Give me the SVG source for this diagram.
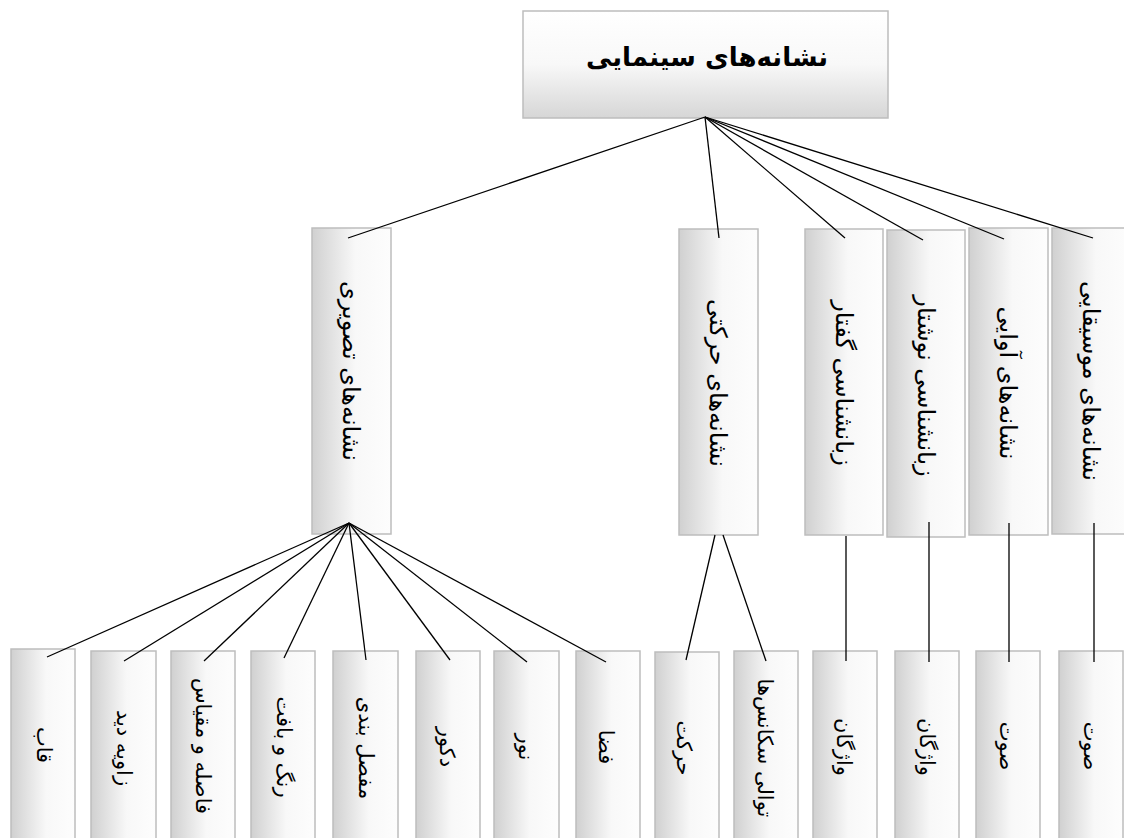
<svg xmlns="http://www.w3.org/2000/svg" width="1124" height="838" viewBox="0 0 1124 838">
  <defs>
    <linearGradient id="gradTop" x1="0" y1="0" x2="0" y2="1">
      <stop offset="0" stop-color="#ffffff"/>
      <stop offset="0.5" stop-color="#f8f8f8"/>
      <stop offset="1" stop-color="#d6d6d6"/>
    </linearGradient>
    <linearGradient id="gradSide" x1="0" y1="0" x2="1" y2="0">
      <stop offset="0" stop-color="#d0d0d0"/>
      <stop offset="0.55" stop-color="#f8f8f8"/>
      <stop offset="1" stop-color="#fdfdfd"/>
    </linearGradient>
    <style>
      .box { fill: url(#gradSide); stroke: #bdbdbd; stroke-width: 1.5; }
      .root { fill: url(#gradTop); stroke: #bdbdbd; stroke-width: 1.5; }
      .lbl { font-family: "DejaVu Sans", "Noto Sans", sans-serif; font-size: 21px; fill: #000; text-anchor: middle; dominant-baseline: central; }
      .mid { font-size: 24px; }
      .title { font-family: "DejaVu Sans", "Noto Sans", sans-serif; font-size: 26px; font-weight: bold; fill: #000; text-anchor: middle; dominant-baseline: central; }
      .wire { stroke: #000; stroke-width: 1.3; fill: none; }
    </style>
  </defs>

  <rect width="1124" height="838" fill="#ffffff"/>

  <!-- root -->
  <g id="root">
    <rect class="root" x="523" y="11" width="365" height="107"/>
    <text class="title" x="707" y="57">نشانه‌های سینمایی</text>
  </g>

  <!-- second level -->
  <g id="n-tasviri">
    <rect class="box" x="312" y="228" width="79" height="306"/>
    <text class="lbl mid" transform="translate(351,371) rotate(90)">نشانه‌های تصویری</text>
  </g>
  <g id="n-harekati">
    <rect class="box" x="679" y="229" width="79" height="306"/>
    <text class="lbl mid" transform="translate(718,383) rotate(90)">نشانه‌های حرکتی</text>
  </g>
  <g id="n-goftar">
    <rect class="box" x="805" y="229" width="78" height="306"/>
    <text class="lbl mid" transform="translate(844,383) rotate(90)">زبانشناسی گفتار</text>
  </g>
  <g id="n-neveshtar">
    <rect class="box" x="887" y="230" width="78" height="307"/>
    <text class="lbl mid" transform="translate(926,386) rotate(90)">زبانشناسی نوشتار</text>
  </g>
  <g id="n-avayi">
    <rect class="box" x="969" y="228" width="79" height="307"/>
    <text class="lbl mid" transform="translate(1008,383) rotate(90)">نشانه‌های آوایی</text>
  </g>
  <g id="n-mousighayi">
    <rect class="box" x="1052" y="228" width="80" height="306"/>
    <text class="lbl mid" transform="translate(1091,381) rotate(90)">نشانه‌های موسیقایی</text>
  </g>

  <!-- leaves -->
  <g id="l-ghab">
    <rect class="box" x="11" y="649" width="64" height="194"/>
    <text class="lbl" transform="translate(44,745) rotate(90)">قاب</text>
  </g>
  <g id="l-zavie">
    <rect class="box" x="91" y="651" width="65" height="192"/>
    <text class="lbl" transform="translate(124,748) rotate(90)">زاویه دید</text>
  </g>
  <g id="l-fasele">
    <rect class="box" x="171" y="651" width="64" height="192"/>
    <text class="lbl" transform="translate(203,746) rotate(90)">فاصله و مقیاس</text>
  </g>
  <g id="l-rang">
    <rect class="box" x="251" y="651" width="64" height="192"/>
    <text class="lbl" transform="translate(284,747) rotate(90)">رنگ و بافت</text>
  </g>
  <g id="l-mafsal">
    <rect class="box" x="333" y="651" width="65" height="192"/>
    <text class="lbl" transform="translate(366,748) rotate(90)">مفصل بندی</text>
  </g>
  <g id="l-dekor">
    <rect class="box" x="416" y="651" width="64" height="192"/>
    <text class="lbl" transform="translate(447,747) rotate(90)">دکور</text>
  </g>
  <g id="l-noor">
    <rect class="box" x="494" y="651" width="65" height="192"/>
    <text class="lbl" transform="translate(526,747) rotate(90)">نور</text>
  </g>
  <g id="l-faza">
    <rect class="box" x="576" y="651" width="64" height="192"/>
    <text class="lbl" transform="translate(606,747) rotate(90)">فضا</text>
  </g>
  <g id="l-harekat">
    <rect class="box" x="655" y="652" width="64" height="191"/>
    <text class="lbl" transform="translate(684,748) rotate(90)">حرکت</text>
  </g>
  <g id="l-tavali">
    <rect class="box" x="734" y="651" width="64" height="192"/>
    <text class="lbl" transform="translate(765,748) rotate(90)">توالی سکانس‌ها</text>
  </g>
  <g id="l-vajegan1">
    <rect class="box" x="813" y="651" width="64" height="192"/>
    <text class="lbl" transform="translate(844,747) rotate(90)">واژگان</text>
  </g>
  <g id="l-vajegan2">
    <rect class="box" x="895" y="651" width="64" height="192"/>
    <text class="lbl" transform="translate(927,747) rotate(90)">واژگان</text>
  </g>
  <g id="l-sowt1">
    <rect class="box" x="976" y="651" width="64" height="192"/>
    <text class="lbl" transform="translate(1007,746) rotate(90)">صوت</text>
  </g>
  <g id="l-sowt2">
    <rect class="box" x="1059" y="651" width="64" height="192"/>
    <text class="lbl" transform="translate(1091,746) rotate(90)">صوت</text>
  </g>

  <!-- connectors -->
  <g id="connectors" class="wire">
    <line x1="705" y1="117" x2="348" y2="238"/>
    <line x1="705" y1="117" x2="719" y2="238"/>
    <line x1="705" y1="117" x2="845" y2="238"/>
    <line x1="705" y1="117" x2="923" y2="240"/>
    <line x1="705" y1="117" x2="1004" y2="239"/>
    <line x1="705" y1="117" x2="1093" y2="238"/>

    <line x1="349" y1="523" x2="47" y2="657"/>
    <line x1="349" y1="523" x2="124" y2="661"/>
    <line x1="349" y1="523" x2="204" y2="661"/>
    <line x1="349" y1="523" x2="284" y2="658"/>
    <line x1="349" y1="523" x2="366" y2="660"/>
    <line x1="349" y1="523" x2="450" y2="660"/>
    <line x1="349" y1="523" x2="527" y2="662"/>
    <line x1="349" y1="523" x2="606" y2="662"/>

    <line x1="715" y1="535" x2="686" y2="660"/>
    <line x1="723" y1="535" x2="766" y2="661"/>

    <line x1="846" y1="536" x2="846" y2="661"/>
    <line x1="929" y1="522" x2="929" y2="662"/>
    <line x1="1009" y1="523" x2="1009" y2="662"/>
    <line x1="1094" y1="523" x2="1094" y2="662"/>
  </g>
</svg>
